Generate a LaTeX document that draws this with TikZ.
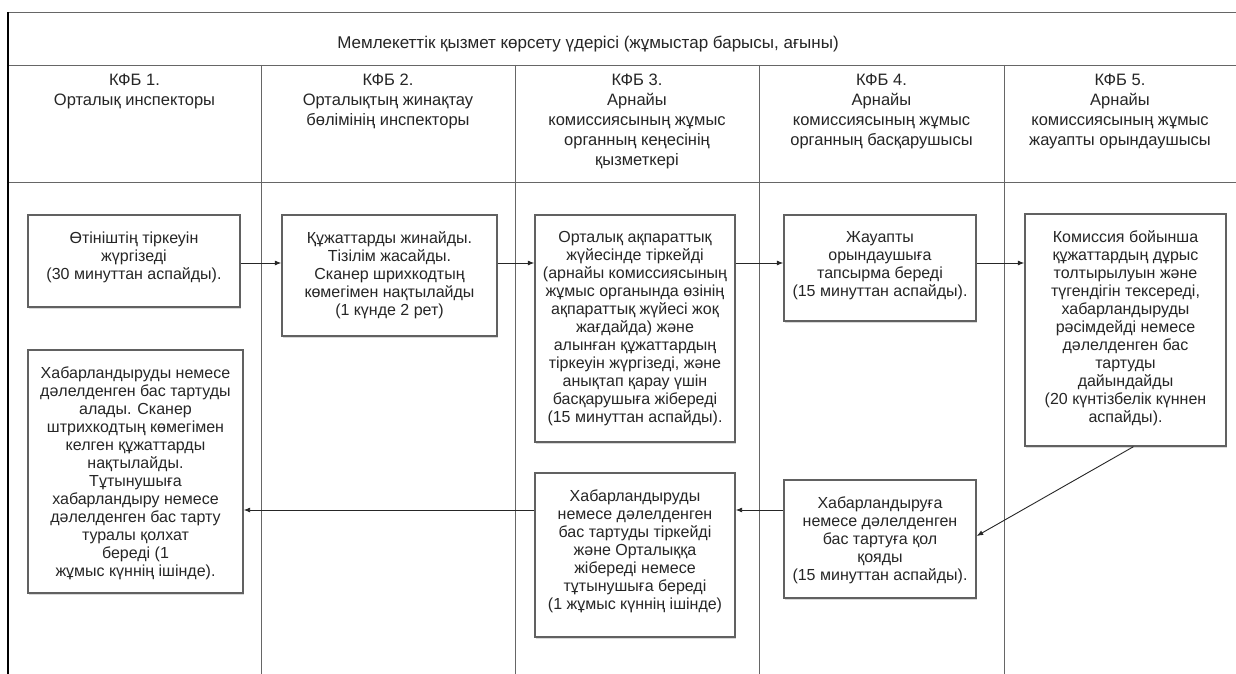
\documentclass[tikz,border=0pt]{standalone}
\usepackage{fontspec}
\setmainfont{Liberation Sans}
\usetikzlibrary{arrows.meta,shadows}
\newcommand{\bxt}[3]{\parbox[c][#2][t]{#1}{\centering\vspace*{16.5pt}#3\par}}
\begin{document}
\begin{tikzpicture}[x=1pt,y=-1pt,
  frame/.style={draw=black!60,line width=0.9pt},
  edge/.style={draw=black,line width=2pt},
  box/.style={draw=black!62,line width=1.3pt,fill=white,inner sep=0pt,
    text=black!85,font=\fontsize{16}{18}\selectfont,
    drop shadow={shadow xshift=1pt,shadow yshift=-1.5pt,fill=black!30,opacity=0.5}},
  hdr/.style={anchor=north,align=center,inner sep=0pt,text=black!85,
    font=\fontsize{16.5}{20}\selectfont},
  ttl/.style={inner sep=0pt,text=black!85,font=\fontsize{17}{18}\selectfont},
  arr/.style={draw=black!85,line width=0.9pt,-{Latex[length=6.5pt,width=5pt]}}]
\fill[white] (0,0) rectangle (1236,674);
\useasboundingbox (0,0) rectangle (1236,674);
% frame
\draw[frame] (8,12) -- (1236,12);
\draw[frame] (8,65) -- (1236,65);
\draw[frame] (8,182) -- (1236,182);
\draw[frame] (261,65) -- (261,674);
\draw[frame] (515,65) -- (515,674);
\draw[frame] (759,65) -- (759,674);
\draw[frame] (1004,65) -- (1004,674);
\draw[edge] (8,12) -- (8,674);
% title and headers
\node[ttl] (T) at (588,44) {Мемлекеттік қызмет көрсету үдерісі (жұмыстар барысы, ағыны)};
\node[hdr] (h1) at (134.5,73.5) {КФБ 1.\\Орталық инспекторы};
\node[hdr] (h2) at (388,73.5) {КФБ 2.\\Орталықтың жинақтау\\бөлімінің инспекторы};
\node[hdr] (h3) at (637,73.5) {КФБ 3.\\Арнайы\\комиссиясының жұмыс\\органның кеңесінің\\қызметкері};
\node[hdr] (h4) at (881.5,73.5) {КФБ 4.\\Арнайы\\комиссиясының жұмыс\\органның басқарушысы};
\node[hdr] (h5) at (1120,73.5) {КФБ 5.\\Арнайы\\комиссиясының жұмыс\\жауапты орындаушысы};
% boxes
\node[box] (A) at (134,261) {\bxt{212pt}{92pt}{Өтініштің тіркеуін\\жүргізеді\\(30 минуттан аспайды).}};
\node[box] (B) at (389.5,275.5) {\bxt{215pt}{121pt}{Құжаттарды жинайды.\\Тізілім жасайды.\\Сканер шрихкодтың\\көмегімен нақтылайды\\(1 күнде 2 рет)}};
\node[box] (C) at (635,328.5) {\bxt{200pt}{227pt}{Орталық ақпараттық\\жүйесінде тіркейді\\(арнайы комиссиясының\\жұмыс органында өзінің\\ақпараттық жүйесі жоқ\\жағдайда) және\\алынған құжаттардың\\тіркеуін жүргізеді, және\\анықтап қарау үшін\\басқарушыға жібереді\\(15 минуттан аспайды).}};
\node[box] (D) at (880,268) {\bxt{192pt}{106pt}{Жауапты\\орындаушыға\\тапсырма береді\\(15 минуттан аспайды).}};
\node[box] (E) at (1125.5,330) {\bxt{201pt}{232pt}{Комиссия бойынша\\құжаттардың дұрыс\\толтырылуын және\\түгендігін тексереді,\\хабарландыруды\\рәсімдейді немесе\\дәлелденген бас\\тартуды\\дайындайды\\(20 күнтізбелік күннен\\аспайды).}};
\node[box] (F) at (880,539) {\bxt{192pt}{118pt}{Хабарландыруға\\немесе дәлелденген\\бас тартуға қол\\қояды\\(15 минуттан аспайды).}};
\node[box] (G) at (635,555) {\bxt{200pt}{164pt}{Хабарландыруды\\немесе дәлелденген\\бас тартуды тіркейді\\және Орталыққа\\жібереді немесе\\тұтынушыға береді\\(1 жұмыс күннің ішінде)}};
\node[box] (H) at (135.5,471.5) {\bxt{215pt}{243pt}{Хабарландыруды немесе\\дәлелденген бас тартуды\\алады. Сканер\\штрихкодтың көмегімен\\келген құжаттарды\\нақтылайды.\\Тұтынушыға\\хабарландыру немесе\\дәлелденген бас тарту\\туралы қолхат\\береді (1\\жұмыс күннің ішінде).}};
% connectors
\coordinate (r1) at (0,263);
\coordinate (r2) at (0,510);
\draw[arr] (A.east |- r1) -- (B.west |- r1);
\draw[arr] (B.east |- r1) -- (C.west |- r1);
\draw[arr] (C.east |- r1) -- (D.west |- r1);
\draw[arr] (D.east |- r1) -- (E.west |- r1);
\draw[arr] ([xshift=8pt]E.south) -- ([yshift=3pt]F.east);
\draw[arr] (F.west |- r2) -- (G.east |- r2);
\draw[arr] (G.west |- r2) -- (H.east |- r2);
\end{tikzpicture}
\end{document}
